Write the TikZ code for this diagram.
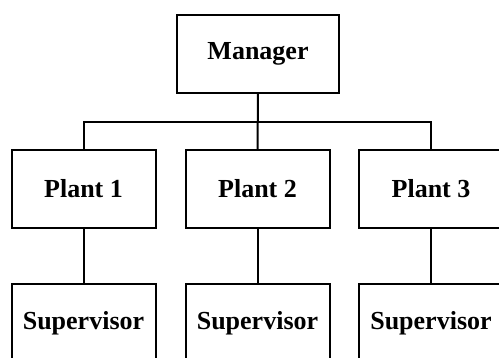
\documentclass[tikz,border=0pt]{standalone}
\usepackage{fontspec}
\setmainfont{Liberation Serif}
\usetikzlibrary{positioning,calc}

\tikzset{
  unit/.style={draw, line width=2pt, minimum width=144, minimum height=78, inner sep=0pt, font=\fontsize{26}{30}\selectfont\bfseries},
  link/.style={line width=2pt},
}

\begin{document}
\begin{tikzpicture}[x=1pt,y=1pt]
\clip (0,0) rectangle (499,357);
\useasboundingbox (0,0) rectangle (499,357);
\node[unit, minimum width=162] (mgr) at (258,303) {Manager};
\node[unit] (p1) at (83.5,168) {Plant 1};
\node[unit] (p2) at (257.5,168) {Plant 2};
\node[unit] (p3) at (431,168) {Plant 3};
\node[unit] (s1) at (83.5,34) {Supervisor};
\node[unit] (s2) at (257.5,34) {Supervisor};
\node[unit] (s3) at (431,34) {Supervisor};
\coordinate (bus) at (258,235);
\draw[link] (mgr.south) -- (p2.north);
\draw[link] (p1.north) -- (p1.north |- bus) -- (p3.north |- bus) -- (p3.north);
\foreach \i in {1,2,3} {\draw[link] (p\i.south) -- (s\i.north);}
\end{tikzpicture}
\end{document}
